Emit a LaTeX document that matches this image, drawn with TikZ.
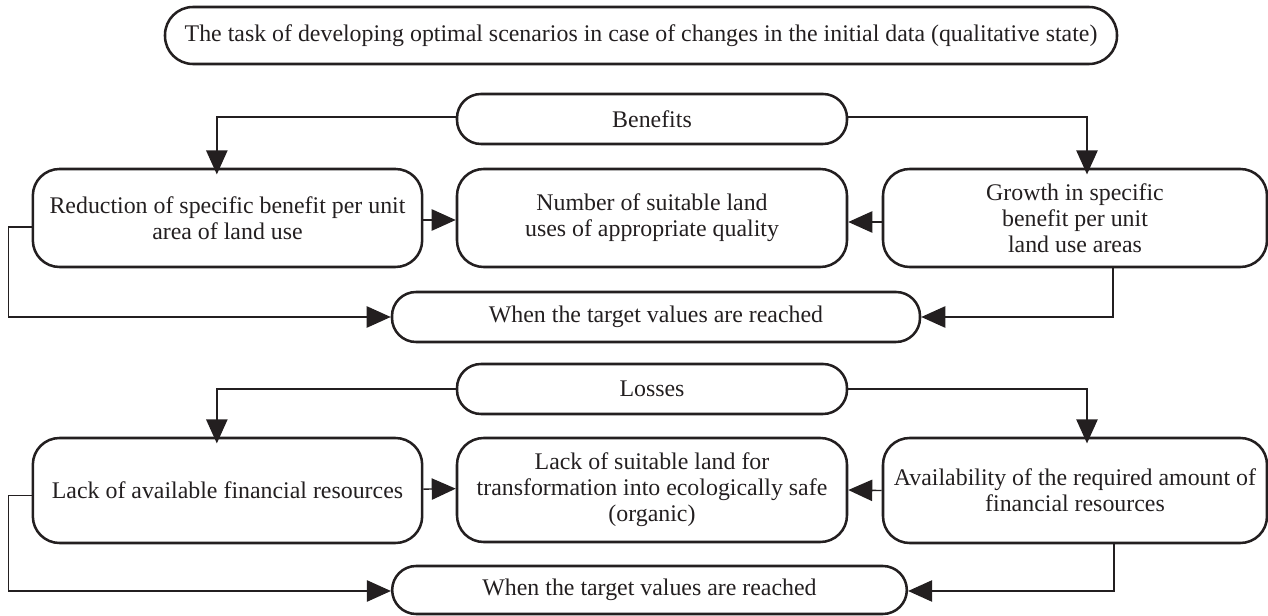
\documentclass[tikz,border=0pt]{standalone}
\usepackage{fontspec}
\setmainfont{Liberation Serif}
\usetikzlibrary{arrows.meta}
\definecolor{ink}{HTML}{231F20}
\tikzset{
  box/.style={draw=ink, line width=1.9pt, align=center, inner sep=0pt, text=ink,
    font=\fontsize{17.9}{19.4}\selectfont},
  pill/.style={box, rounded corners=18pt, minimum height=37.5pt},
  bigbox/.style={box, rounded corners=20pt},
  conn/.style={draw=ink, line width=1pt, -{Triangle[length=18pt,width=16pt]}},
  pierce/.style={shorten >=-5pt}
}
\begin{document}
\begin{tikzpicture}[x=0.75pt,y=-0.75pt]
\useasboundingbox (0,0) rectangle (1268,616);

\node[pill, minimum width=714pt, minimum height=42.75pt, rounded corners=21pt] (title) at (641,35.5)
  {The task of developing optimal scenarios in case of changes in the initial data (qualitative state)};

\node[pill, minimum width=292.5pt] (benefits) at (652,119) {Benefits};
\node[bigbox, minimum width=292pt, minimum height=73.5pt] (left1) at (227.5,218)
  {Reduction of specific benefit per unit\\area of land use};
\node[bigbox, minimum width=292.5pt, minimum height=73.5pt] (mid1) at (652,218)
  {Number of suitable land\\uses of appropriate quality};
\node[bigbox, minimum width=288pt, minimum height=73.5pt] (right1) at (1075,218)
  {Growth in specific\\benefit per unit\\land use areas};
\node[pill, minimum width=396pt] (target1) at (656,317) {When the target values are reached};

\node[pill, minimum width=292.5pt] (losses) at (652,389) {Losses};
\node[bigbox, minimum width=292pt, minimum height=78.75pt] (left2) at (227.5,490.5)
  {Lack of available financial resources};
\node[bigbox, minimum width=292.5pt, minimum height=78pt] (mid2) at (652,490)
  {Lack of suitable land for\\transformation into ecologically safe\\(organic)};
\node[bigbox, minimum width=288pt, minimum height=78.75pt] (right2) at (1075,490.5)
  {Availability of the required amount of\\financial resources};
\node[pill, minimum width=386pt, minimum height=36pt] (target2) at (649.5,590) {When the target values are reached};

% upper block
\draw[conn, pierce] ([yshift=1.5pt]benefits.west) -| ([xshift=-8pt]left1.north);
\draw[conn, pierce] ([yshift=1.5pt]benefits.east) -| ([xshift=9pt]right1.north);
\draw[conn] ([yshift=-1.5pt]left1.east) -- ([yshift=-1.5pt]mid1.west);
\draw[conn] ([yshift=-3pt]right1.west) -- ([yshift=-3pt]mid1.east);
\draw[conn] ([yshift=-6.75pt]left1.west) -- ++(-17.25pt,0) |- (target1.west);
\draw[conn] ([xshift=28.5pt]right1.south) |- (target1.east);

% lower block
\draw[conn, pierce] (losses.west) -| ([xshift=-8pt]left2.north);
\draw[conn, pierce] (losses.east) -| ([xshift=9pt]right2.north);
\draw[conn] ([yshift=1pt]left2.east) -- ([yshift=1pt]mid2.west);
\draw[conn] (right2.west) -- (mid2.east);
\draw[conn] ([yshift=-4pt]left2.west) -- ++(-17.25pt,0) |- ([yshift=-0.75pt]target2.west);
\draw[conn] ([xshift=29.25pt]right2.south) |- ([yshift=-0.75pt]target2.east);
\end{tikzpicture}
\end{document}
